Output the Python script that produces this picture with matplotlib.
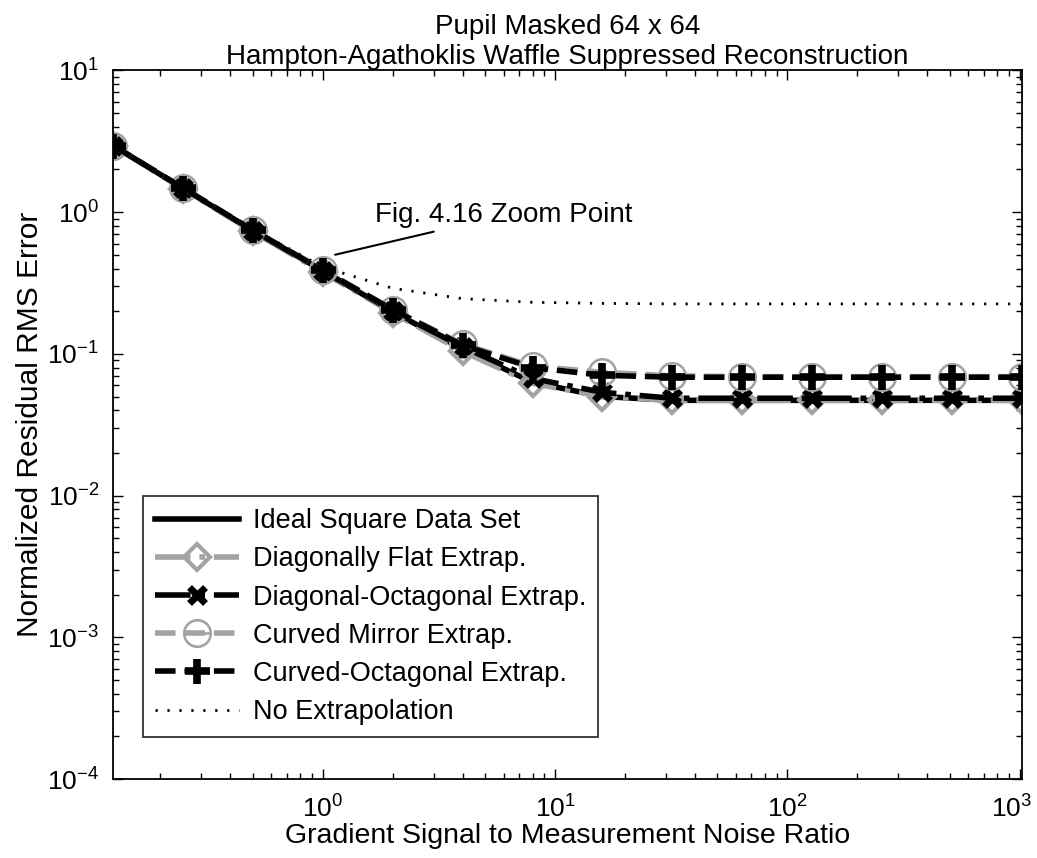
import numpy as np
import matplotlib.pyplot as plt
from matplotlib.transforms import ScaledTranslation

plt.rcParams['font.family'] = ['Liberation Sans', 'DejaVu Sans']
plt.rcParams['mathtext.fontset'] = 'custom'
plt.rcParams['mathtext.rm'] = 'Liberation Sans'

# SNR sample points (powers of two)
snr = [0.125, 0.25, 0.5, 1, 2, 4, 8, 16, 32, 64, 128, 256, 512, 1024]

ideal = [2.95, 1.47, 0.74, 0.385, 0.198, 0.108, 0.063, 0.050, 0.047, 0.047, 0.047, 0.047, 0.047, 0.047]
diag_flat = [2.95, 1.46, 0.73, 0.375, 0.195, 0.104, 0.062, 0.050, 0.047, 0.047, 0.047, 0.047, 0.047, 0.047]
diag_oct = [2.95, 1.47, 0.74, 0.385, 0.200, 0.112, 0.067, 0.0535, 0.0486, 0.0486, 0.0486, 0.0486, 0.0486, 0.0486]
curved_mirror = [2.95, 1.48, 0.745, 0.39, 0.205, 0.117, 0.082, 0.074, 0.070, 0.069, 0.069, 0.069, 0.069, 0.069]
curved_oct = [2.95, 1.48, 0.745, 0.39, 0.205, 0.115, 0.080, 0.0706, 0.0684, 0.0684, 0.0684, 0.0684, 0.0684, 0.0684]
no_extrap = [2.95, 1.48, 0.76, 0.41, 0.29, 0.245, 0.231, 0.227, 0.225, 0.225, 0.225, 0.225, 0.225, 0.225]

gray = '#a3a3a3'

fig = plt.figure(figsize=(10.37, 8.58), dpi=100)
ax = fig.add_axes([0.109, 0.092, 0.8765, 0.826])

ax.plot(snr, ideal, color='black', lw=4, ls='-', label='Ideal Square Data Set')
ax.plot(snr, diag_flat, color=gray, lw=4, ls='-.', marker='D', ms=13,
        mfc='none', mec=gray, mew=3, label='Diagonally Flat Extrap.')
ax.plot(snr, diag_oct, color='black', lw=4, ls='-.', marker='x', ms=12,
        mew=5, label='Diagonal-Octagonal Extrap.')
ax.plot(snr, curved_mirror, color=gray, lw=4, ls='--', marker='$\\ominus$', ms=20,
        mec=gray, mfc=gray, label='Curved Mirror Extrap.')
ax.plot(snr, curved_oct, color='black', lw=4, ls='--', marker='+', ms=18,
        mew=5.5, label='Curved-Octagonal Extrap.')
ax.plot(snr, no_extrap, color='black', lw=2, ls=(0, (0.8, 3.5)), label='No Extrapolation')

ax.set_xscale('log')
ax.set_yscale('log')
ax.set_xlim(0.125, 1024)
ax.set_ylim(1e-4, 1e1)
ax.set_xticks([1, 10, 100, 1000])
ax.set_yticks([1e-4, 1e-3, 1e-2, 1e-1, 1, 10])
ax.tick_params(which='both', direction='in', top=True, right=True, labelsize=19)
ax.tick_params(which='major', length=7, width=1)
ax.tick_params(axis='x', which='major', pad=12)
ax.tick_params(axis='y', which='major', pad=10)
ax.tick_params(which='minor', length=4, width=1)
for s in ax.spines.values():
    s.set_linewidth(1.3)

# keep the last x tick label inside the figure
fig.canvas.draw()
last = ax.get_xticklabels()[-1]
last.set_transform(last.get_transform() + ScaledTranslation(-8 / 100, 0, fig.dpi_scale_trans))

ax.set_xlabel('Gradient Signal to Measurement Noise Ratio', fontsize=20.5, labelpad=0)
ax.set_ylabel('Normalized Residual RMS Error', fontsize=21.5, labelpad=2)
ax.set_title('Pupil Masked 64 x 64\nHampton-Agathoklis Waffle Suppressed Reconstruction',
             fontsize=20, linespacing=1.2, pad=3)

ax.annotate('Fig. 4.16 Zoom Point', xy=(1.13, 0.50), xytext=(1.68, 0.95),
            fontsize=20, va='center', ha='left',
            arrowprops=dict(arrowstyle='-', color='black', lw=1.5, shrinkA=2, shrinkB=0))

leg = ax.legend(loc='lower left', bbox_to_anchor=(0.033, 0.059), fontsize=19.5,
                handlelength=3.1, frameon=True, fancybox=False, edgecolor='black',
                borderpad=0.45, labelspacing=0.45, handletextpad=0.5, borderaxespad=0)
leg.get_frame().set_linewidth(1.3)

fig.savefig('out.png', dpi=100)
